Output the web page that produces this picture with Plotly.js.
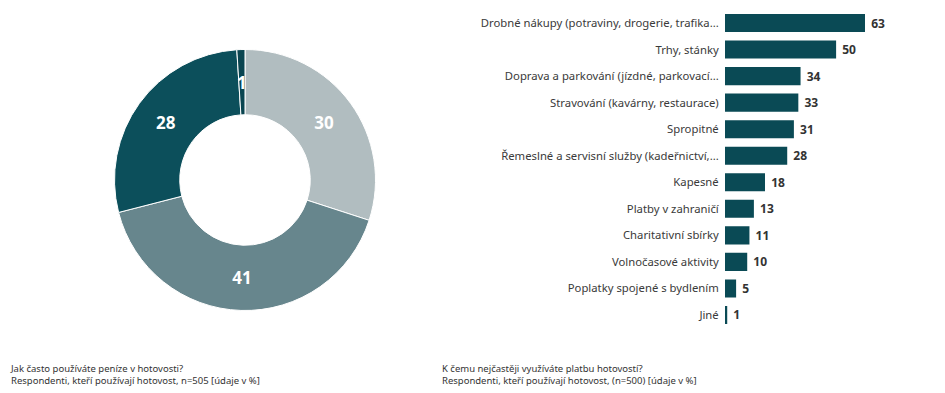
<!DOCTYPE html>
<html><head><meta charset="utf-8">
<script src="https://cdn.plot.ly/plotly-3.0.1.min.js"></script>
<style>html,body{margin:0;padding:0;background:#fff}#chart{width:945px;height:393px}</style>
</head><body><div id="chart"></div>
<script>
const pieLabels = ["A", "B", "C", "D"];
const pieValues = [30, 41, 28, 1];
const pieColors = ["#b1bdc0", "#67868d", "#0c4f5b", "#0a4550"];

const barCategories = [
  "Drobné nákupy (potraviny, drogerie, trafika...",
  "Trhy, stánky",
  "Doprava a parkování (jízdné, parkovací...",
  "Stravování (kavárny, restaurace)",
  "Spropitné",
  "Řemeslné a servisní služby (kadeřnictví,...",
  "Kapesné",
  "Platby v zahraničí",
  "Charitativní sbírky",
  "Volnočasové aktivity",
  "Poplatky spojené s bydlením",
  "Jiné"
];
const barValues = [63, 50, 34, 33, 31, 28, 18, 13, 11, 10, 5, 1];

const noteLeft = "Jak často používáte peníze v hotovosti?<br>Respondenti, kteří používají hotovost, n=505 [údaje v %]";
const noteRight = "K čemu nejčastěji využíváte platbu hotovostí?<br>Respondenti, kteří používají hotovost, (n=500) [údaje v %]";

const W = 945, H = 393;
const font = "Noto Sans, Open Sans, sans-serif";

// pie geometry (pixels)
const pieCx = 245, pieCy = 180, pieR = 130.5, pieHole = 0.5;

// small slices whose label is drawn unscaled as an annotation at the slice's centre
const total = pieValues.reduce((a, b) => a + b, 0);
const pieAnn = [];
const pieText = [];
let cum = 0;
pieValues.forEach((v, i) => {
  const mid = (cum + v / 2) / total * 2 * Math.PI;
  cum += v;
  if (v / total < 0.05) {
    pieText.push("");
    const rm = pieR * (1 + pieHole) / 2;
    pieAnn.push({
      text: "<b>" + v + "</b>",
      x: (pieCx + rm * Math.sin(mid)) / W,
      y: 1 - (pieCy - rm * Math.cos(mid)) / H,
      xref: "paper", yref: "paper", xanchor: "center", yanchor: "middle",
      showarrow: false,
      font: {size: 17, color: "#ffffff", family: font}
    });
  } else {
    pieText.push(String(v));
  }
});

const pie = {
  type: "pie",
  labels: pieLabels,
  values: pieValues,
  text: pieText,
  sort: false,
  direction: "clockwise",
  rotation: 0,
  hole: pieHole,
  marker: {colors: pieColors, line: {color: "#ffffff", width: 1}},
  texttemplate: "%{text}",
  textposition: "inside",
  insidetextorientation: "horizontal",
  textfont: {color: "#ffffff", size: 17, family: font, weight: "bold"},
  hoverinfo: "none",
  showlegend: false,
  domain: {x: [(pieCx - pieR) / W, (pieCx + pieR) / W], y: [1 - (pieCy + pieR) / H, 1 - (pieCy - pieR) / H]}
};

const bar = {
  type: "bar",
  orientation: "h",
  x: barValues,
  y: barCategories,
  xaxis: "x",
  yaxis: "y",
  marker: {color: "#0a4a55"},
  texttemplate: "\u00a0<b>%{x}</b>",
  textposition: "outside",
  textfont: {color: "#333333", size: 12, family: font},
  cliponaxis: false,
  hoverinfo: "none",
  showlegend: false
};

const layout = {
  width: W, height: H,
  margin: {l: 0, r: 0, t: 0, b: 0},
  paper_bgcolor: "#ffffff",
  plot_bgcolor: "rgba(0,0,0,0)",
  font: {family: font, color: "#333333"},
  bargap: 0.32,
  xaxis: {
    domain: [725 / W, 905 / W],
    range: [0, 81],
    visible: false,
    fixedrange: true
  },
  yaxis: {
    domain: [1 - 328.25 / H, 1 - 9.75 / H],
    autorange: "reversed",
    type: "category",
    showline: false,
    showgrid: false,
    zeroline: false,
    ticks: "outside",
    ticklen: 3,
    tickcolor: "rgba(0,0,0,0)",
    tickfont: {size: 11.3, color: "#3a3a3a", family: font},
    fixedrange: true
  },
  annotations: pieAnn.concat([
    {text: noteLeft, x: 8 / W, y: 1 - 360 / H, xref: "paper", yref: "paper", xanchor: "left", yanchor: "top", align: "left", showarrow: false, font: {size: 9.5, color: "#333333", family: font}},
    {text: noteRight, x: 440 / W, y: 1 - 360 / H, xref: "paper", yref: "paper", xanchor: "left", yanchor: "top", align: "left", showarrow: false, font: {size: 9.5, color: "#333333", family: font}}
  ])
};

Plotly.newPlot("chart", [pie, bar], layout, {displayModeBar: false, staticPlot: true});
</script>
</body></html>
